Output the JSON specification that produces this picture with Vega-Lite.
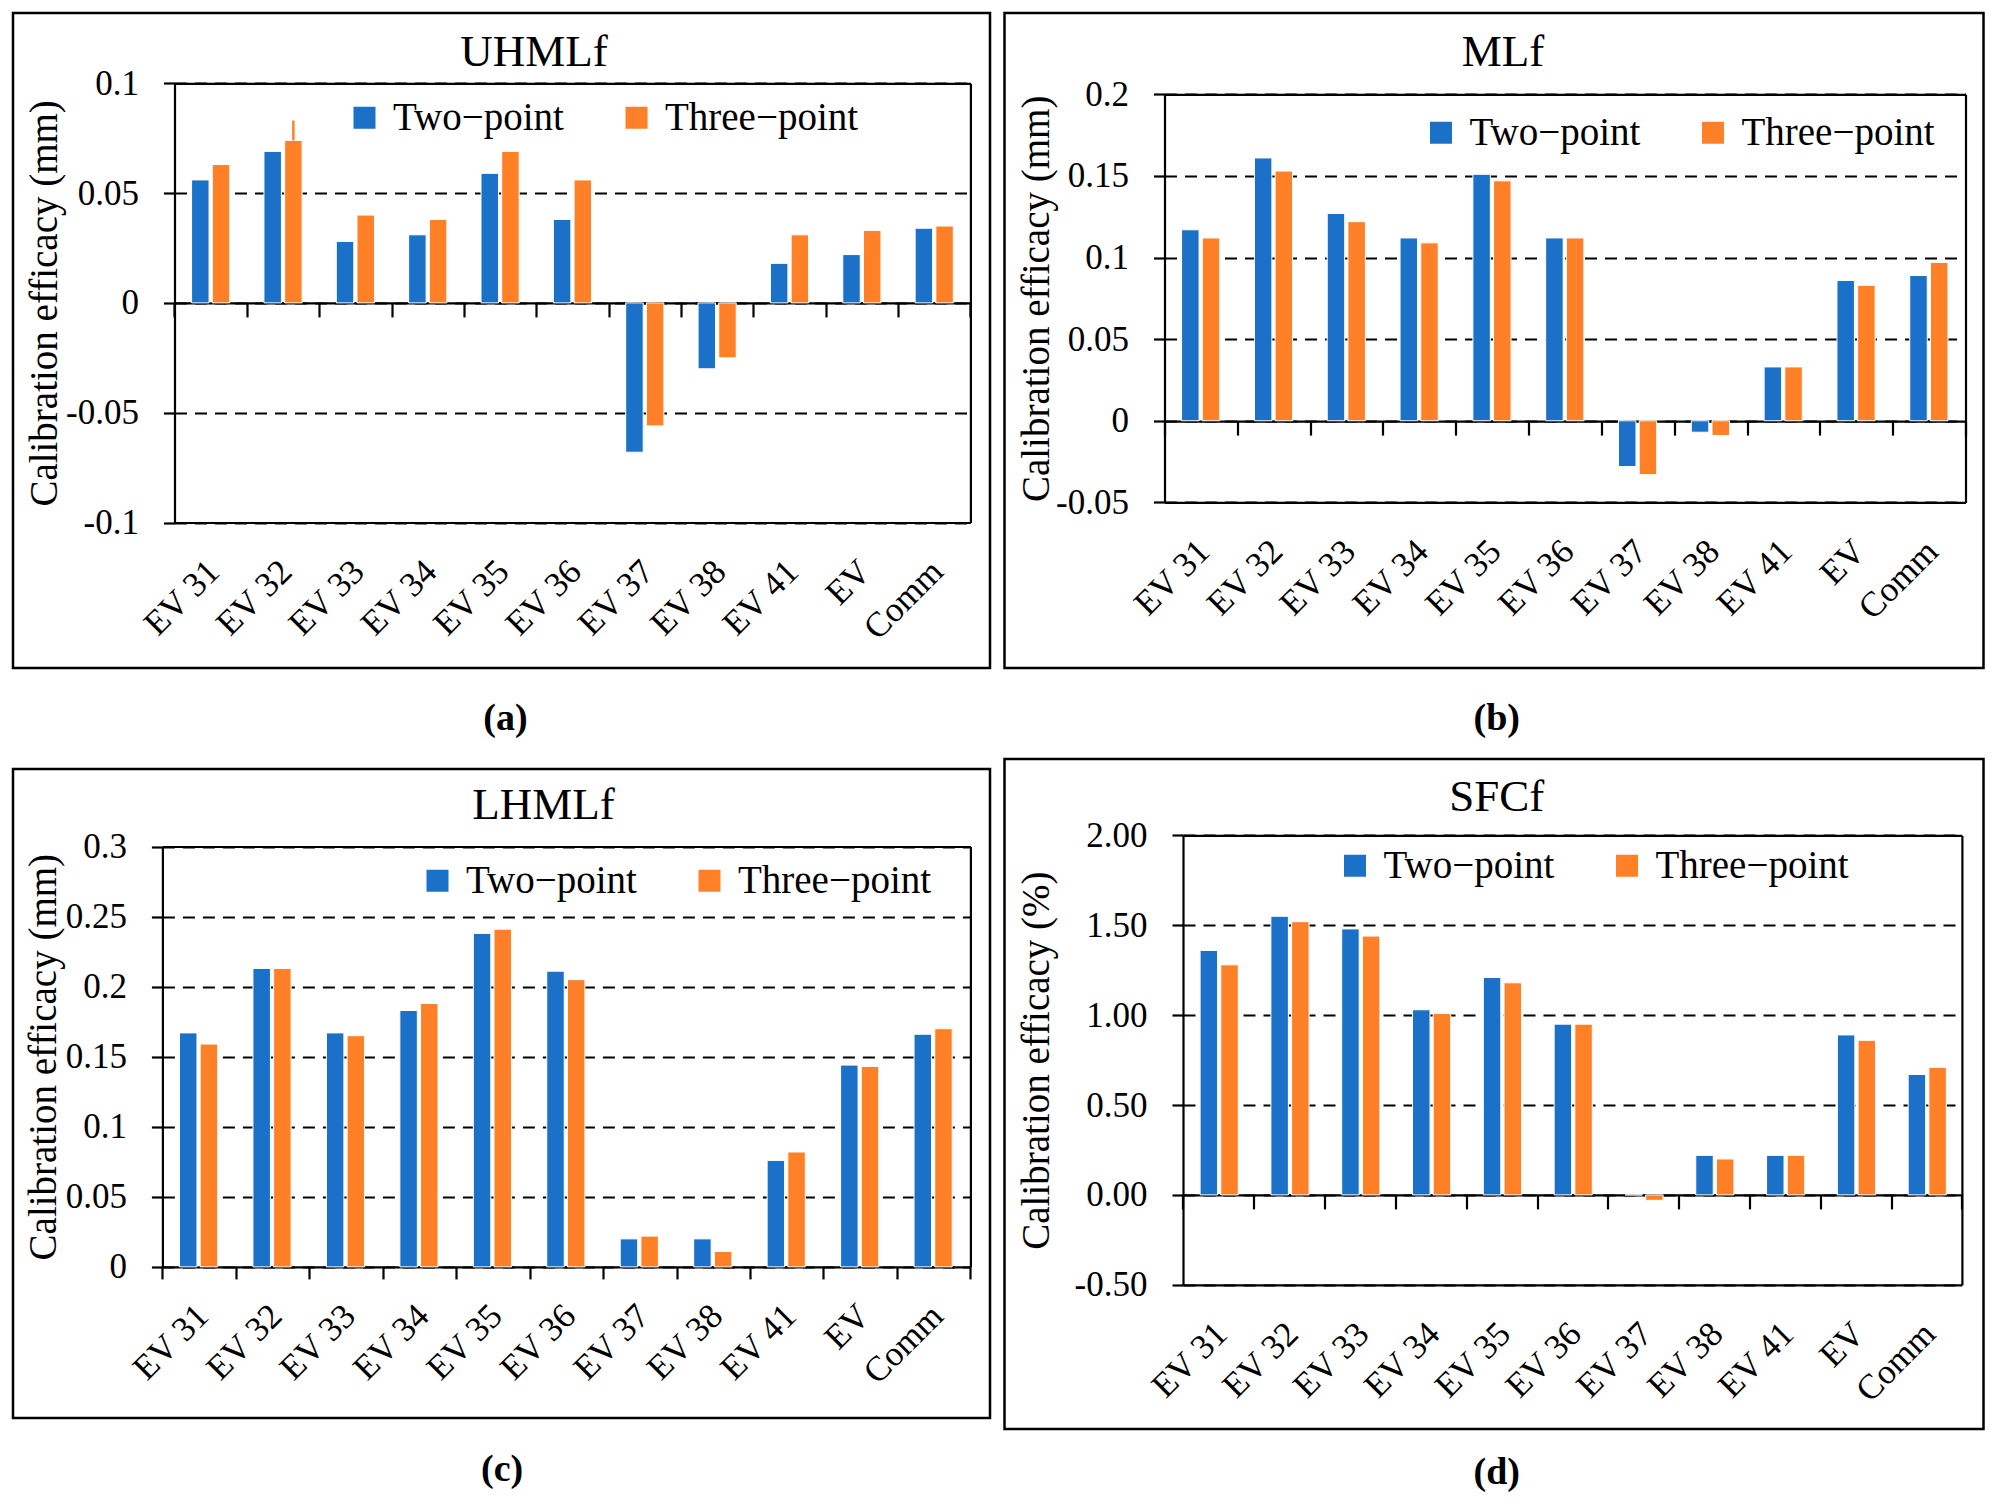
{
  "$schema": "https://vega.github.io/schema/vega-lite/v6.json",
  "background": "white",
  "padding": {"left": 11, "top": -94, "right": 4, "bottom": 4},
  "datasets": {
    "uhmlf": [
      {"cat": "EV 31", "series": "Two−point", "value": 0.056}, {"cat": "EV 31", "series": "Three−point", "value": 0.063},
      {"cat": "EV 32", "series": "Two−point", "value": 0.069}, {"cat": "EV 32", "series": "Three−point", "value": 0.074},
      {"cat": "EV 33", "series": "Two−point", "value": 0.028}, {"cat": "EV 33", "series": "Three−point", "value": 0.040},
      {"cat": "EV 34", "series": "Two−point", "value": 0.031}, {"cat": "EV 34", "series": "Three−point", "value": 0.038},
      {"cat": "EV 35", "series": "Two−point", "value": 0.059}, {"cat": "EV 35", "series": "Three−point", "value": 0.069},
      {"cat": "EV 36", "series": "Two−point", "value": 0.038}, {"cat": "EV 36", "series": "Three−point", "value": 0.056},
      {"cat": "EV 37", "series": "Two−point", "value": -0.068}, {"cat": "EV 37", "series": "Three−point", "value": -0.056},
      {"cat": "EV 38", "series": "Two−point", "value": -0.030}, {"cat": "EV 38", "series": "Three−point", "value": -0.025},
      {"cat": "EV 41", "series": "Two−point", "value": 0.018}, {"cat": "EV 41", "series": "Three−point", "value": 0.031},
      {"cat": "EV", "series": "Two−point", "value": 0.022}, {"cat": "EV", "series": "Three−point", "value": 0.033},
      {"cat": "Comm", "series": "Two−point", "value": 0.034}, {"cat": "Comm", "series": "Three−point", "value": 0.035}
    ],
    "mlf": [
      {"cat": "EV 31", "series": "Two−point", "value": 0.117}, {"cat": "EV 31", "series": "Three−point", "value": 0.112},
      {"cat": "EV 32", "series": "Two−point", "value": 0.161}, {"cat": "EV 32", "series": "Three−point", "value": 0.153},
      {"cat": "EV 33", "series": "Two−point", "value": 0.127}, {"cat": "EV 33", "series": "Three−point", "value": 0.122},
      {"cat": "EV 34", "series": "Two−point", "value": 0.112}, {"cat": "EV 34", "series": "Three−point", "value": 0.109},
      {"cat": "EV 35", "series": "Two−point", "value": 0.151}, {"cat": "EV 35", "series": "Three−point", "value": 0.147},
      {"cat": "EV 36", "series": "Two−point", "value": 0.112}, {"cat": "EV 36", "series": "Three−point", "value": 0.112},
      {"cat": "EV 37", "series": "Two−point", "value": -0.028}, {"cat": "EV 37", "series": "Three−point", "value": -0.033},
      {"cat": "EV 38", "series": "Two−point", "value": -0.007}, {"cat": "EV 38", "series": "Three−point", "value": -0.009},
      {"cat": "EV 41", "series": "Two−point", "value": 0.033}, {"cat": "EV 41", "series": "Three−point", "value": 0.033},
      {"cat": "EV", "series": "Two−point", "value": 0.086}, {"cat": "EV", "series": "Three−point", "value": 0.083},
      {"cat": "Comm", "series": "Two−point", "value": 0.089}, {"cat": "Comm", "series": "Three−point", "value": 0.097}
    ],
    "lhmlf": [
      {"cat": "EV 31", "series": "Two−point", "value": 0.167}, {"cat": "EV 31", "series": "Three−point", "value": 0.159},
      {"cat": "EV 32", "series": "Two−point", "value": 0.213}, {"cat": "EV 32", "series": "Three−point", "value": 0.213},
      {"cat": "EV 33", "series": "Two−point", "value": 0.167}, {"cat": "EV 33", "series": "Three−point", "value": 0.165},
      {"cat": "EV 34", "series": "Two−point", "value": 0.183}, {"cat": "EV 34", "series": "Three−point", "value": 0.188},
      {"cat": "EV 35", "series": "Two−point", "value": 0.238}, {"cat": "EV 35", "series": "Three−point", "value": 0.241},
      {"cat": "EV 36", "series": "Two−point", "value": 0.211}, {"cat": "EV 36", "series": "Three−point", "value": 0.205},
      {"cat": "EV 37", "series": "Two−point", "value": 0.020}, {"cat": "EV 37", "series": "Three−point", "value": 0.022},
      {"cat": "EV 38", "series": "Two−point", "value": 0.020}, {"cat": "EV 38", "series": "Three−point", "value": 0.011},
      {"cat": "EV 41", "series": "Two−point", "value": 0.076}, {"cat": "EV 41", "series": "Three−point", "value": 0.082},
      {"cat": "EV", "series": "Two−point", "value": 0.144}, {"cat": "EV", "series": "Three−point", "value": 0.143},
      {"cat": "Comm", "series": "Two−point", "value": 0.166}, {"cat": "Comm", "series": "Three−point", "value": 0.170}
    ],
    "sfcf": [
      {"cat": "EV 31", "series": "Two−point", "value": 1.36}, {"cat": "EV 31", "series": "Three−point", "value": 1.28},
      {"cat": "EV 32", "series": "Two−point", "value": 1.55}, {"cat": "EV 32", "series": "Three−point", "value": 1.52},
      {"cat": "EV 33", "series": "Two−point", "value": 1.48}, {"cat": "EV 33", "series": "Three−point", "value": 1.44},
      {"cat": "EV 34", "series": "Two−point", "value": 1.03}, {"cat": "EV 34", "series": "Three−point", "value": 1.01},
      {"cat": "EV 35", "series": "Two−point", "value": 1.21}, {"cat": "EV 35", "series": "Three−point", "value": 1.18},
      {"cat": "EV 36", "series": "Two−point", "value": 0.95}, {"cat": "EV 36", "series": "Three−point", "value": 0.95},
      {"cat": "EV 37", "series": "Two−point", "value": 0.0}, {"cat": "EV 37", "series": "Three−point", "value": -0.03},
      {"cat": "EV 38", "series": "Two−point", "value": 0.22}, {"cat": "EV 38", "series": "Three−point", "value": 0.20},
      {"cat": "EV 41", "series": "Two−point", "value": 0.22}, {"cat": "EV 41", "series": "Three−point", "value": 0.22},
      {"cat": "EV", "series": "Two−point", "value": 0.89}, {"cat": "EV", "series": "Three−point", "value": 0.86},
      {"cat": "Comm", "series": "Two−point", "value": 0.67}, {"cat": "Comm", "series": "Three−point", "value": 0.71}
    ],
    "uhmlf_spike": [
      {"cat": "EV 32", "series": "Three−point", "lo": 0.074, "hi": 0.083}
    ]
  },
  "hconcat": [
    {
      "bounds": "flush",
      "spacing": 101,
      "resolve": {"scale": {"color": "independent"}, "legend": {"color": "independent"}},
      "vconcat": [
        {
          "width": 977, "height": 655,
          "data": {"name": "uhmlf"},
          "layer": [
            {
              "mark": {"type": "bar", "stroke": "white", "strokeWidth": 1},
              "encoding": {
                "x": {"field": "cat", "type": "nominal",
                  "scale": {"domain": ["EV 31", "EV 32", "EV 33", "EV 34", "EV 35", "EV 36", "EV 37", "EV 38", "EV 41", "EV", "Comm"], "range": [161.5, 957.4], "paddingInner": 0, "paddingOuter": 0},
                  "axis": {"orient": "bottom", "offset": -145.5, "ticks": false, "labelAngle": -45, "labelAlign": "right", "labelBaseline": "top", "labelPadding": 31, "labelOffset": -9,
                    "title": "(a)", "titleX": 492, "titleY": 196, "titleBaseline": "middle", "titleFontWeight": "bold", "titleFontSize": 38}},
                "xOffset": {"field": "series", "type": "nominal", "scale": {"domain": ["Two−point", "Three−point"], "paddingInner": 0.155, "paddingOuter": 0.826}},
                "y": {"field": "value", "type": "quantitative",
                  "scale": {"domain": [-0.1, 0.1], "range": [509.5, 70.3], "nice": false, "zero": false},
                  "axis": {"orient": "left", "offset": -161.5, "values": [-0.1, -0.05, 0, 0.05, 0.1], "format": "~g", "labelExpr": "replace(datum.label, '−', '-')",
                    "grid": true, "title": "Calibration efficacy (mm)", "titleX": -118.5, "titleBaseline": "alphabetic"}},
                "y2": {"datum": 0},
                "color": {"field": "series", "type": "nominal",
                  "scale": {"domain": ["Two−point", "Three−point"], "range": ["#1B71C8", "#FF8027"]},
                  "legend": {"title": null, "legendX": 332, "legendY": 85}}
              }
            },
            {
              "data": {"name": "uhmlf_spike"},
              "mark": {"type": "rule", "color": "#FF8027", "strokeWidth": 2.5},
              "encoding": {
                "x": {"field": "cat", "type": "nominal", "bandPosition": 0, "axis": null},
                "xOffset": {"field": "series", "type": "nominal"},
                "y": {"field": "lo", "type": "quantitative", "axis": null},
                "y2": {"field": "hi"}
              }
            },
            {
              "mark": {"type": "bar", "opacity": 0},
              "encoding": {
                "x": {"field": "cat", "type": "nominal", "axis": {"orient": "bottom", "offset": -365.1, "labels": false, "ticks": true, "tickBand": "extent", "tickSize": 14, "title": null, "grid": false}},
                "y": {"field": "value", "type": "quantitative", "axis": {"orient": "right", "offset": -19.6, "labels": false, "ticks": false, "grid": false, "title": null}}
              }
            },
            {
              "mark": {"type": "bar", "opacity": 0},
              "encoding": {
                "x": {"field": "cat", "type": "nominal", "axis": {"orient": "top", "offset": -70.3, "labels": false, "ticks": false, "grid": false,
                  "title": "UHMLf", "titleX": 520.5, "titleY": -17.7, "titleBaseline": "alphabetic", "titleFontSize": 45}}
              }
            }
          ],
          "resolve": {"axis": {"x": "independent", "y": "independent"}}
        },
        {
          "width": 977, "height": 649,
          "data": {"name": "lhmlf"},
          "layer": [
            {
              "mark": {"type": "bar", "stroke": "white", "strokeWidth": 1},
              "encoding": {
                "x": {"field": "cat", "type": "nominal",
                  "scale": {"domain": ["EV 31", "EV 32", "EV 33", "EV 34", "EV 35", "EV 36", "EV 37", "EV 38", "EV 41", "EV", "Comm"], "range": [149.4, 957.4], "paddingInner": 0, "paddingOuter": 0},
                  "axis": {"orient": "bottom", "offset": -151.1, "ticks": true, "tickBand": "extent", "tickSize": 12, "labelAngle": -45, "labelAlign": "right", "labelBaseline": "top", "labelPadding": 19, "labelOffset": -9,
                    "title": "(c)", "titleX": 488.6, "titleY": 202.5, "titleBaseline": "middle", "titleFontWeight": "bold", "titleFontSize": 38}},
                "xOffset": {"field": "series", "type": "nominal", "scale": {"domain": ["Two−point", "Three−point"], "paddingInner": 0.155, "paddingOuter": 0.826}},
                "y": {"field": "value", "type": "quantitative",
                  "scale": {"domain": [0, 0.3], "range": [497.9, 77.5], "nice": false, "zero": false},
                  "axis": {"orient": "left", "offset": -149.4, "values": [0, 0.05, 0.1, 0.15, 0.2, 0.25, 0.3], "format": "~g",
                    "grid": true, "title": "Calibration efficacy (mm)", "titleX": -106.8, "titleBaseline": "alphabetic"}},
                "y2": {"datum": 0},
                "color": {"field": "series", "type": "nominal",
                  "scale": {"domain": ["Two−point", "Three−point"], "range": ["#1B71C8", "#FF8027"]},
                  "legend": {"title": null, "legendX": 405, "legendY": 92}}
              }
            },
            {
              "mark": {"type": "bar", "opacity": 0},
              "encoding": {
                "x": {"field": "cat", "type": "nominal", "axis": {"orient": "top", "offset": -77.5, "labels": false, "ticks": false, "grid": false,
                  "title": "LHMLf", "titleX": 530, "titleY": -28, "titleBaseline": "alphabetic", "titleFontSize": 45}},
                "y": {"field": "value", "type": "quantitative", "axis": {"orient": "right", "offset": -19.6, "labels": false, "ticks": false, "grid": false, "title": null}}
              }
            }
          ],
          "resolve": {"axis": {"x": "independent", "y": "independent"}}
        }
      ]
    },
    {
      "bounds": "flush",
      "spacing": 91,
      "resolve": {"scale": {"color": "independent"}, "legend": {"color": "independent"}},
      "vconcat": [
        {
          "width": 979, "height": 655,
          "data": {"name": "mlf"},
          "layer": [
            {
              "mark": {"type": "bar", "stroke": "white", "strokeWidth": 1},
              "encoding": {
                "x": {"field": "cat", "type": "nominal",
                  "scale": {"domain": ["EV 31", "EV 32", "EV 33", "EV 34", "EV 35", "EV 36", "EV 37", "EV 38", "EV 41", "EV", "Comm"], "range": [160, 961], "paddingInner": 0, "paddingOuter": 0},
                  "axis": {"orient": "bottom", "offset": -165.6, "ticks": false, "labelAngle": -45, "labelAlign": "right", "labelBaseline": "top", "labelPadding": 31, "labelOffset": -9,
                    "title": "(b)", "titleX": 491.7, "titleY": 216.3, "titleBaseline": "middle", "titleFontWeight": "bold", "titleFontSize": 38}},
                "xOffset": {"field": "series", "type": "nominal", "scale": {"domain": ["Two−point", "Three−point"], "paddingInner": 0.155, "paddingOuter": 0.826}},
                "y": {"field": "value", "type": "quantitative",
                  "scale": {"domain": [-0.05, 0.2], "range": [489.4, 81.3], "nice": false, "zero": false},
                  "axis": {"orient": "left", "offset": -160, "values": [-0.05, 0, 0.05, 0.1, 0.15, 0.2], "format": "~g", "labelExpr": "replace(datum.label, '−', '-')",
                    "grid": true, "title": "Calibration efficacy (mm)", "titleX": -116, "titleBaseline": "alphabetic"}},
                "y2": {"datum": 0},
                "color": {"field": "series", "type": "nominal",
                  "scale": {"domain": ["Two−point", "Three−point"], "range": ["#1B71C8", "#FF8027"]},
                  "legend": {"title": null, "legendX": 417, "legendY": 100}}
              }
            },
            {
              "mark": {"type": "bar", "opacity": 0},
              "encoding": {
                "x": {"field": "cat", "type": "nominal", "axis": {"orient": "bottom", "offset": -246.9, "labels": false, "ticks": true, "tickBand": "extent", "tickSize": 14, "title": null, "grid": false}},
                "y": {"field": "value", "type": "quantitative", "axis": {"orient": "right", "offset": -18, "labels": false, "ticks": false, "grid": false, "title": null}}
              }
            },
            {
              "mark": {"type": "bar", "opacity": 0},
              "encoding": {
                "x": {"field": "cat", "type": "nominal", "axis": {"orient": "top", "offset": -81.3, "labels": false, "ticks": false, "grid": false,
                  "title": "MLf", "titleX": 498, "titleY": -28.7, "titleBaseline": "alphabetic", "titleFontSize": 45}}
              }
            }
          ],
          "resolve": {"axis": {"x": "independent", "y": "independent"}}
        },
        {
          "width": 979, "height": 670,
          "data": {"name": "sfcf"},
          "layer": [
            {
              "mark": {"type": "bar", "stroke": "white", "strokeWidth": 1},
              "encoding": {
                "x": {"field": "cat", "type": "nominal",
                  "scale": {"domain": ["EV 31", "EV 32", "EV 33", "EV 34", "EV 35", "EV 36", "EV 37", "EV 38", "EV 41", "EV", "Comm"], "range": [178.5, 957.4], "paddingInner": 0, "paddingOuter": 0},
                  "axis": {"orient": "bottom", "offset": -144.2, "ticks": false, "labelAngle": -45, "labelAlign": "right", "labelBaseline": "top", "labelPadding": 31, "labelOffset": -9,
                    "title": "(d)", "titleX": 491.7, "titleY": 188, "titleBaseline": "middle", "titleFontWeight": "bold", "titleFontSize": 38}},
                "xOffset": {"field": "series", "type": "nominal", "scale": {"domain": ["Two−point", "Three−point"], "paddingInner": 0.155, "paddingOuter": 0.826}},
                "y": {"field": "value", "type": "quantitative",
                  "scale": {"domain": [-0.5, 2], "range": [525.8, 76.4], "nice": false, "zero": false},
                  "axis": {"orient": "left", "offset": -178.5, "values": [-0.5, 0, 0.5, 1, 1.5, 2], "format": ".2f", "labelExpr": "replace(datum.label, '−', '-')",
                    "grid": true, "title": "Calibration efficacy (%)", "titleX": -134.2, "titleBaseline": "alphabetic"}},
                "y2": {"datum": 0},
                "color": {"field": "series", "type": "nominal",
                  "scale": {"domain": ["Two−point", "Three−point"], "range": ["#1B71C8", "#FF8027"]},
                  "legend": {"title": null, "legendX": 331, "legendY": 87}}
              }
            },
            {
              "mark": {"type": "bar", "opacity": 0},
              "encoding": {
                "x": {"field": "cat", "type": "nominal", "axis": {"orient": "bottom", "offset": -234.1, "labels": false, "ticks": true, "tickBand": "extent", "tickSize": 14, "title": null, "grid": false}},
                "y": {"field": "value", "type": "quantitative", "axis": {"orient": "right", "offset": -21.6, "labels": false, "ticks": false, "grid": false, "title": null}}
              }
            },
            {
              "mark": {"type": "bar", "opacity": 0},
              "encoding": {
                "x": {"field": "cat", "type": "nominal", "axis": {"orient": "top", "offset": -76.4, "labels": false, "ticks": false, "grid": false,
                  "title": "SFCf", "titleX": 491.7, "titleY": -24.6, "titleBaseline": "alphabetic", "titleFontSize": 45}}
              }
            }
          ],
          "resolve": {"axis": {"x": "independent", "y": "independent"}}
        }
      ]
    }
  ],
  "spacing": 10.5,
  "resolve": {"scale": {"color": "independent"}, "legend": {"color": "independent"}},
  "config": {
    "font": "Liberation Serif",
    "view": {"stroke": "black", "strokeWidth": 2.5},
    "axis": {
      "domainColor": "black", "domainWidth": 2.2, "tickColor": "black", "tickWidth": 2.2, "tickSize": 11,
      "labelColor": "black", "labelFont": "Liberation Serif", "labelFontSize": 35, "labelPadding": 25,
      "labelOverlap": false, "labelFlush": false, "labelLimit": 0, "minExtent": 0,
      "titleFont": "Liberation Serif", "titleFontSize": 39, "titleFontWeight": "normal", "titleColor": "black", "titlePadding": 0,
      "gridColor": "black", "gridDash": [12, 8], "gridWidth": 2.2, "gridOpacity": 1
    },
    "legend": {
      "orient": "none", "direction": "horizontal", "symbolType": "square", "symbolSize": 484, "symbolStrokeWidth": 0,
      "labelFont": "Liberation Serif", "labelFontSize": 39, "labelColor": "black", "labelOffset": 9, "columnPadding": 53,
      "padding": 0, "labelLimit": 0
    }
  }
}
